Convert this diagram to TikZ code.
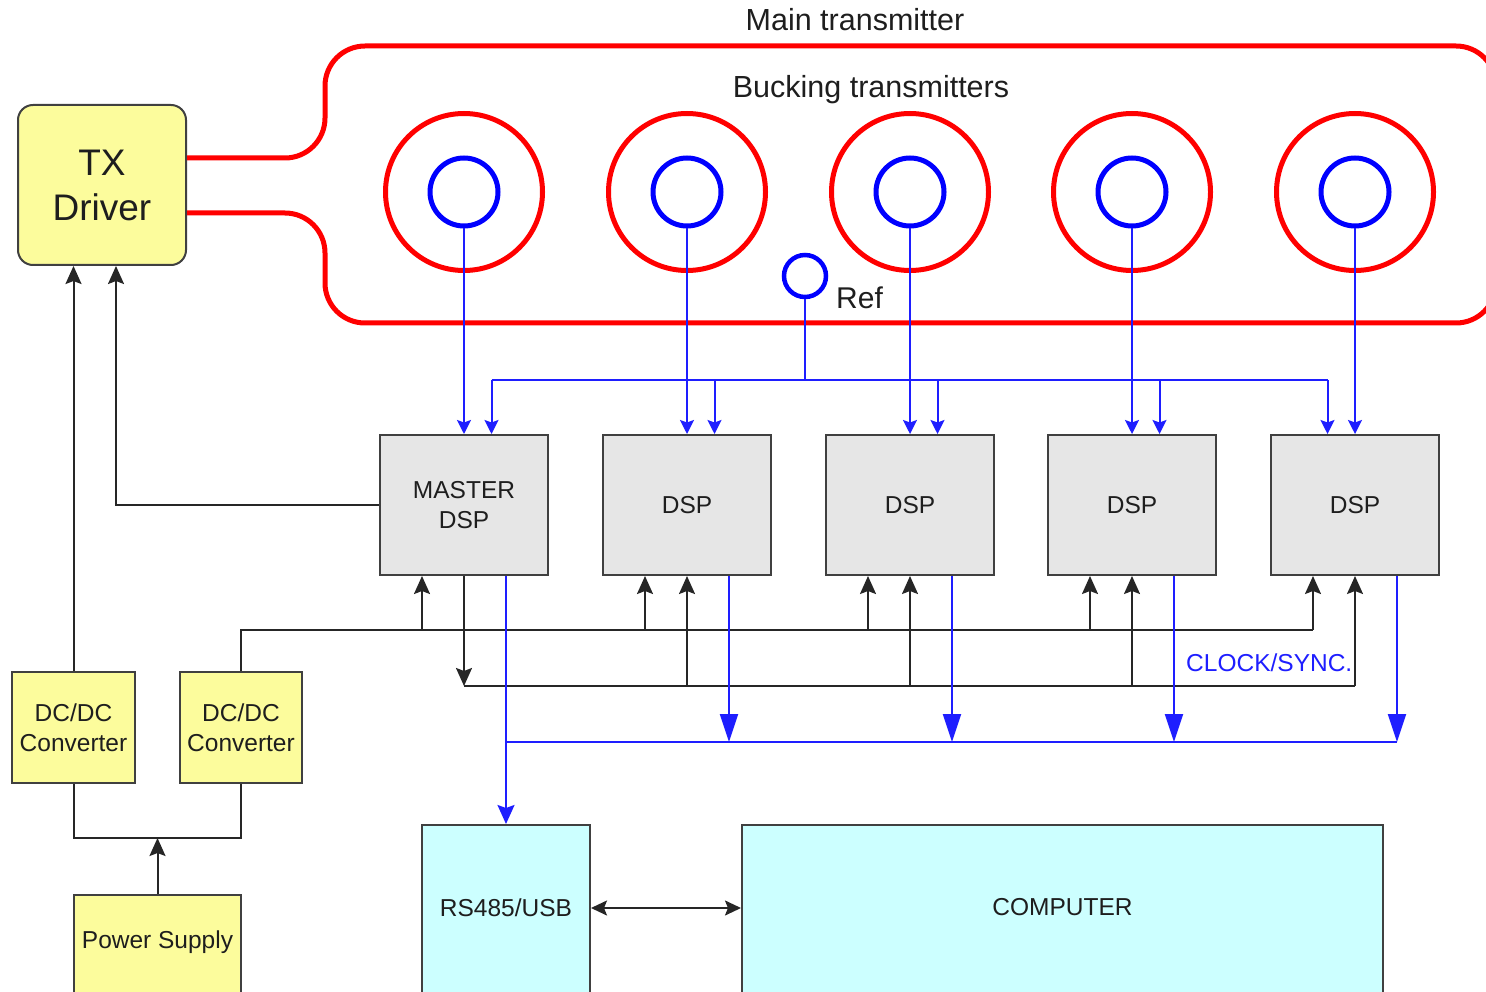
\documentclass[tikz,border=0pt]{standalone}
\usepackage{fontspec}
\setmainfont{Liberation Sans}
\usetikzlibrary{arrows.meta,calc}
\definecolor{boxyellow}{RGB}{252,252,156}
\definecolor{boxgray}{RGB}{230,230,230}
\definecolor{boxcyan}{RGB}{204,255,255}
\definecolor{edgegray}{RGB}{64,64,64}
\definecolor{txtcol}{RGB}{30,30,30}
\definecolor{wirered}{RGB}{255,0,0}
\definecolor{coilblue}{RGB}{0,0,255}
\definecolor{sigblue}{RGB}{30,30,255}
\begin{document}
\begin{tikzpicture}[x=1pt,y=-1pt,
  box/.style={draw=edgegray, line width=2pt, inner sep=0pt, align=center, text=txtcol, font=\fontsize{24.5}{30}\selectfont},
  dspbox/.style={box, fill=boxgray, minimum width=168pt, minimum height=140pt},
  yelbox/.style={box, fill=boxyellow},
  cyanbox/.style={box, fill=boxcyan},
  lbl/.style={text=txtcol, inner sep=0pt, font=\fontsize{24.5}{30}\selectfont},
  title/.style={text=txtcol, inner sep=0pt, font=\fontsize{30.5}{34}\selectfont},
  outercoil/.style={circle, draw=wirered, line width=5pt, minimum size=157pt, inner sep=0pt},
  innercoil/.style={circle, draw=coilblue, line width=5pt, minimum size=68pt, inner sep=0pt},
  refcoil/.style={circle, draw=coilblue, line width=4.5pt, minimum size=42pt, inner sep=0pt},
  redwire/.style={draw=wirered, line width=5pt},
  sig/.style={draw=sigblue, line width=2pt},
  sigarrow/.style={sig, -{Stealth[length=14pt,width=14pt,inset=2.5pt]}},
  rsarrow/.style={sig, -{Stealth[length=19pt,width=17pt,inset=3pt]}},
  bigarrow/.style={sig, -{Triangle[length=28pt,width=18pt]}},
  wire/.style={draw=black!85, line width=2pt},
  warrow/.style={wire, -{Stealth[length=18pt,width=16pt,inset=3pt]}},
]
\useasboundingbox (0,0) rectangle (1486,992);

% titles
\node[title] (maintx) at (855,20) {Main transmitter};
\node[title] (bucktx) at (871,90) {Bucking transmitters};

% TX driver
\node[yelbox, rounded corners=15pt, minimum width=168pt, minimum height=160pt, font=\fontsize{37}{45}\selectfont] (tx) at (102,185) {TX\\Driver};

% red main loop
\draw[redwire, rounded corners=40pt] ([yshift=27pt]tx.east) -| (325,46) -- (1496,46) -- (1496,323) -- (325,323) |- ([yshift=-28pt]tx.east);

% coils
\foreach \i/\x in {1/464,2/687,3/910,4/1132,5/1355}{
  \node[outercoil] (o\i) at (\x,192) {};
  \node[innercoil] (c\i) at (\x,192) {};
}
\node[refcoil] (ref) at (805,276) {};
\node[anchor=west, inner sep=0pt, text=txtcol, font=\fontsize{30}{34}\selectfont] (reflbl) at (836,298) {Ref};

% DSP boxes
\node[dspbox] (d1) at (464,505) {MASTER\\DSP};
\node[dspbox] (d2) at (687,505) {DSP};
\node[dspbox] (d3) at (910,505) {DSP};
\node[dspbox] (d4) at (1132,505) {DSP};
\node[dspbox] (d5) at (1355,505) {DSP};

% DC/DC and power supply
\node[yelbox, minimum width=123pt, minimum height=111pt] (dc1) at (73.5,727.5) {DC/DC\\Converter};
\node[yelbox, minimum width=122pt, minimum height=111pt] (dc2) at (241,727.5) {DC/DC\\Converter};
\node[yelbox, minimum width=167pt, minimum height=120pt, label={[lbl, yshift=13pt]center:Power Supply}] (ps) at (157.5,955) {};

% RS485 and computer
\node[cyanbox, minimum width=168pt, minimum height=185pt, label={[lbl, yshift=10pt]center:RS485/USB}] (rs) at (506,917.5) {};
\node[cyanbox, minimum width=641pt, minimum height=185pt, label={[lbl, yshift=10pt]center:COMPUTER}] (pc) at (1062.5,917.5) {};

% helper coordinates
\coordinate (rb) at (0,380);
\coordinate (bA) at (0,630);
\coordinate (bB) at (0,686);
\coordinate (bC) at (0,742);
\coordinate (pj) at (157.5,838);
\coordinate (lk) at (0,908);
\coordinate (tb) at ([xshift=14pt]tx.south);

% coil to DSP signals
\foreach \i in {1,...,5}{
  \draw[sigarrow] (c\i.south) -- (c\i.south |- d\i.north);
}
% reference bus
\foreach \i in {1,...,4}{
  \coordinate (t\i) at ([xshift=27.5pt]d\i.north);
}
\coordinate (t5) at ([xshift=-27.5pt]d5.north);
\draw[sig] (ref.south) -- (ref.south |- rb);
\draw[sig] (t1 |- rb) -- (t5 |- rb);
\foreach \i in {1,...,5}{
  \draw[sigarrow] (t\i |- rb) -- (t\i);
}

% power bus A
\foreach \i in {1,...,5}{
  \coordinate (a\i) at ([xshift=-42pt]d\i.south);
  \draw[warrow] (a\i |- bA) -- (a\i);
}
\draw[wire] (dc2.north) |- (a5 |- bA);

% clock/sync bus B
\draw[warrow] (d1.south) -- (d1.south |- bB);
\draw[wire] (d1.south |- bB) -- (d5.south |- bB);
\foreach \i in {2,...,5}{
  \draw[warrow] (d\i.south |- bB) -- (d\i.south);
}
\node[anchor=west, inner sep=0pt, text=sigblue, font=\fontsize{24.5}{30}\selectfont] (clk) at (1186,663) {CLOCK/SYNC.};

% data bus C
\foreach \i in {1,...,5}{
  \coordinate (s\i) at ([xshift=42pt]d\i.south);
}
\foreach \i in {2,...,5}{
  \draw[bigarrow] (s\i) -- (s\i |- bC);
}
\draw[sig] (s1 |- bC) -- (s5 |- bC);
\draw[rsarrow] (s1) -- (s1 |- rs.north);

% TX driver inputs
\draw[warrow] (dc1.north) -- (dc1.north |- tx.south);
\draw[warrow] (d1.west) -| (tb);

% power supply
\draw[wire] (dc1.south) |- (pj) -| (dc2.south);
\draw[warrow] (ps.north) -- (pj);

% RS485 <-> computer
\draw[wire, {Stealth[length=16pt,width=15pt,inset=3pt]}-{Stealth[length=16pt,width=15pt,inset=3pt]}] (rs.east |- lk) -- (pc.west |- lk);
\end{tikzpicture}
\end{document}
